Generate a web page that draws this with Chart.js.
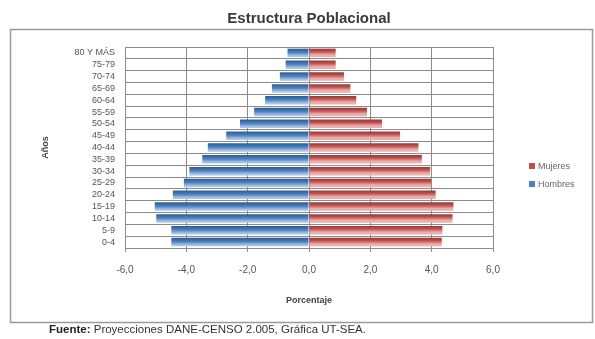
<!DOCTYPE html>
<html>
<head>
<meta charset="utf-8">
<script src="https://cdn.jsdelivr.net/npm/chart.js@4.4.1/dist/chart.umd.min.js"></script>
<style>
html,body{margin:0;padding:0;background:#fff;}
#wrap{position:relative;width:595px;height:339px;}
canvas{display:block;}
</style>
</head>
<body>
<div id="wrap"><canvas id="c" width="595" height="339"></canvas></div>
<script>
// ---- Data ----
const ageGroups = ['80 Y MÁS','75-79','70-74','65-69','60-64','55-59','50-54','45-49','40-44','35-39','30-34','25-29','20-24','15-19','10-14','5-9','0-4'];
const mujeres = [0.87,0.87,1.14,1.35,1.54,1.89,2.38,2.97,3.57,3.68,3.95,3.98,4.13,4.71,4.68,4.35,4.33];
const hombres = [-0.70,-0.76,-0.95,-1.21,-1.43,-1.79,-2.25,-2.70,-3.30,-3.48,-3.90,-4.08,-4.44,-5.03,-4.98,-4.49,-4.49];
const xTicks = [-6,-4,-2,0,2,4,6];
const titleText = 'Estructura Poblacional';
const yTitle = 'Años';
const xTitle = 'Porcentaje';
const seriesNames = ['Mujeres','Hombres'];

const FONT = "'Liberation Sans Narrow','Liberation Sans',Arial,sans-serif";
const RED = {dark:'#8f3532', main:'#c0504d', light:'#ebb0ae'};
const BLUE = {dark:'#2d5f99', main:'#4f81bd', light:'#a9c6e8'};
const BAR_PCT = 0.72;

function barGradient(ctx, pal, dsIndex) {
  const chart = ctx.chart;
  const ys = chart.scales && chart.scales.y;
  if (!chart.chartArea || !ys || ctx.dataIndex === undefined) return pal.main;
  const center = ys.getPixelForValue(ctx.dataIndex) + (dsIndex === 0 ? -0.5 : 0.5);
  const catH = ys.height / ageGroups.length;
  const half = catH * BAR_PCT / 2;
  const top = center - half, bot = center + half;
  if (!isFinite(top) || !isFinite(bot)) return pal.main;
  const g = chart.ctx.createLinearGradient(0, top, 0, bot);
  g.addColorStop(0, pal.dark);
  g.addColorStop(0.4, pal.main);
  g.addColorStop(0.8, pal.light);
  g.addColorStop(1, pal.light);
  return g;
}

const frame = {
  id: 'frame',
  afterDraw(chart) {
    const c = chart.ctx;
    c.save();
    // outer border
    c.strokeStyle = '#9a9a9a';
    c.lineWidth = 1.5;
    c.strokeRect(10.5, 29.5, 582, 293);
    // title
    c.fillStyle = '#3a3a3a';
    c.font = "bold 15px 'Liberation Sans',Arial,sans-serif";
    c.textAlign = 'center';
    c.textBaseline = 'middle';
    c.fillText(titleText, 309, 19);
    // legend
    const items = [[seriesNames[0], RED.main, 166], [seriesNames[1], BLUE.main, 184]];
    c.font = "9px " + FONT;
    c.textAlign = 'left';
    items.forEach(([t, col, y]) => {
      c.fillStyle = col;
      c.fillRect(529, y - 3, 6, 6);
      c.fillStyle = '#666';
      c.fillText(t, 538, y + 0.5);
    });
    // footnote
    c.textBaseline = 'middle';
    c.font = "bold 11.5px 'Liberation Sans',Arial,sans-serif";
    c.fillStyle = '#222';
    c.fillText('Fuente:', 49, 330);
    const w = c.measureText('Fuente: ').width;
    c.font = "11.5px 'Liberation Sans',Arial,sans-serif";
    c.fillStyle = '#333';
    c.fillText('Proyecciones DANE-CENSO 2.005, Gráfica UT-SEA.', 49 + w, 330);
    c.restore();
  }
};

new Chart(document.getElementById('c'), {
  type: 'bar',
  data: {
    labels: ageGroups,
    datasets: [
      {label: seriesNames[0], data: mujeres, backgroundColor: ctx => barGradient(ctx, RED, 0),
       barPercentage: BAR_PCT, categoryPercentage: 1, borderWidth: 0},
      {label: seriesNames[1], data: hombres, backgroundColor: ctx => barGradient(ctx, BLUE, 1),
       barPercentage: BAR_PCT, categoryPercentage: 1, borderWidth: 0}
    ]
  },
  options: {
    indexAxis: 'y',
    responsive: false,
    animation: false,
    layout: {padding: {left: 36, right: 102, top: 47, bottom: 29}},
    plugins: {legend: {display: false}, title: {display: false}, tooltip: {enabled: false}},
    scales: {
      x: {
        min: -6, max: 6,
        afterBuildTicks: s => { s.ticks = xTicks.map(v => ({value: v})); },
        afterFit: s => { s.height = 62; },
        ticks: {
          font: {family: FONT, size: 10}, color: '#555', padding: 12,
          callback: v => v.toFixed(1).replace('.', ',')
        },
        grid: {color: '#8c8c8c', lineWidth: 1, tickLength: 4, drawTicks: true},
        border: {color: '#8c8c8c'},
        title: {display: true, text: xTitle, font: {family: FONT, size: 9, weight: 'bold'}, color: '#444', padding: {top: 14}}
      },
      y: {
        stacked: true,
        afterFit: s => { s.width = 89; },
        ticks: {font: {family: FONT, size: 9}, color: '#555', padding: 10, autoSkip: false},
        grid: {color: '#8c8c8c', lineWidth: 1, offset: true, drawTicks: false},
        border: {color: '#8c8c8c'},
        title: {display: true, text: yTitle, font: {family: FONT, size: 9, weight: 'bold'}, color: '#444', padding: {top: 4, bottom: 4}}
      }
    }
  },
  plugins: [frame]
});
</script>
</body>
</html>
